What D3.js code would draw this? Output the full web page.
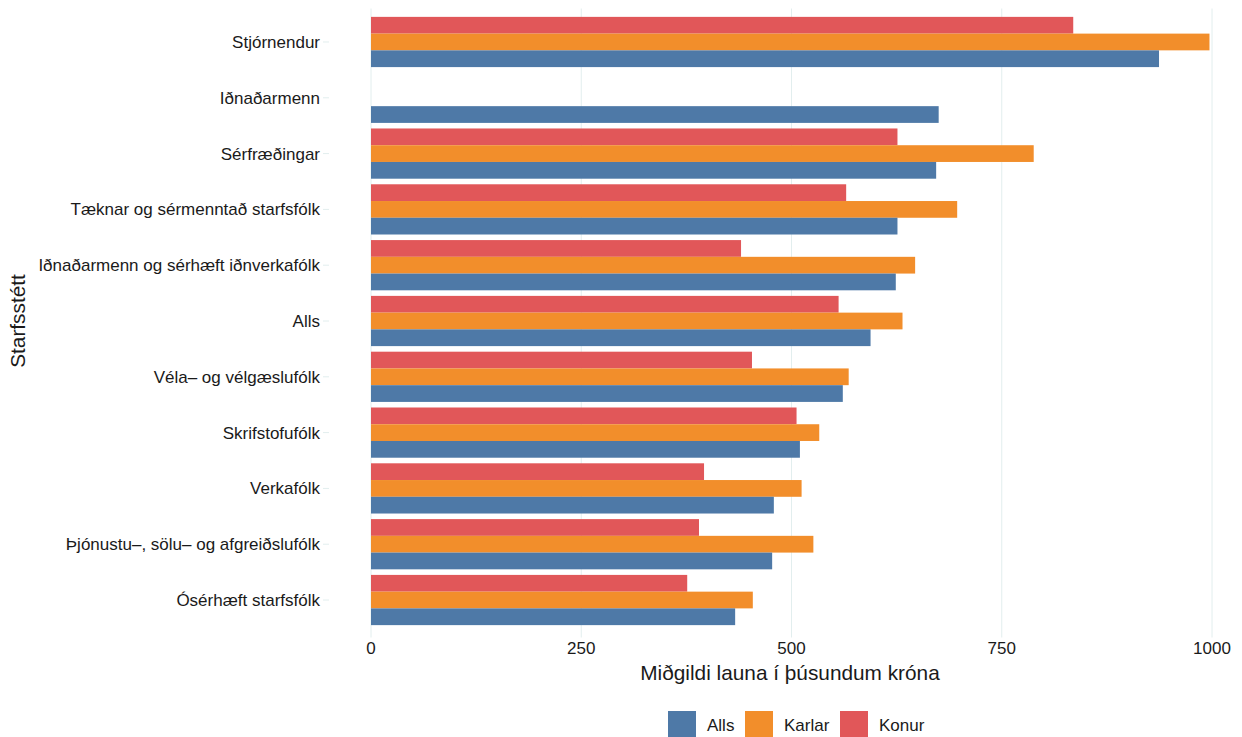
<!DOCTYPE html>
<html>
<head>
<meta charset="utf-8">
<script src="https://cdn.jsdelivr.net/npm/d3@7"></script>
<style>
  body { margin: 0; background: #fff; }
  text { font-family: "Liberation Sans", Arial, sans-serif; fill: #1a1a1a; }
</style>
</head>
<body>
<div id="chart"></div>
<script>
const categories = [
  'Stjórnendur',
  'Iðnaðarmenn',
  'Sérfræðingar',
  'Tæknar og sérmenntað starfsfólk',
  'Iðnaðarmenn og sérhæft iðnverkafólk',
  'Alls',
  'Véla- og vélgæslufólk',
  'Skrifstofufólk',
  'Verkafólk',
  'Þjónustu-, sölu- og afgreiðslufólk',
  'Ósérhæft starfsfólk'
];
const series = ['Konur', 'Karlar', 'Alls'];
const allsValues   = [937, 675, 672, 626, 624, 594, 561, 510, 479, 477, 433];
const karlarValues = [997, null, 788, 697, 647, 632, 568, 533, 512, 526, 454];
const konurValues  = [835, null, 626, 565, 440, 556, 453, 506, 396, 390, 376];
const xTicks = [0, 250, 500, 750, 1000];
const legendOrder = ['Alls', 'Karlar', 'Konur'];

const colors = { Alls: '#4e79a7', Karlar: '#f28e2b', Konur: '#e15759' };
const valuesBySeries = { Alls: allsValues, Karlar: karlarValues, Konur: konurValues };

const width = 1242, height = 737;
const svg = d3.select('#chart').append('svg')
  .attr('width', width).attr('height', height);

const panel = { top: 8.5, bottom: 633.5, left: 329, right: 1242 };
const gridColor = '#e2eeee';

const x = d3.scaleLinear().domain([0, 1000]).range([371, 1212]);
const y = d3.scalePoint().domain(categories).range([panel.top, panel.bottom]).padding(0.6);
const step = y.step();
const inner = d3.scaleBand().domain(series).range([-0.45 * step, 0.45 * step]);

// gridlines
svg.append('g').selectAll('line').data(xTicks).join('line')
  .attr('x1', d => x(d)).attr('x2', d => x(d))
  .attr('y1', panel.top).attr('y2', panel.bottom + 4)
  .attr('stroke', gridColor).attr('stroke-width', 1);

// bars
const rows = [];
categories.forEach((c, i) => {
  series.forEach(s => {
    const v = valuesBySeries[s][i];
    if (v != null) rows.push({ c, s, v });
  });
});
svg.append('g').selectAll('rect').data(rows).join('rect')
  .attr('x', x(0))
  .attr('y', d => y(d.c) + inner(d.s))
  .attr('width', d => x(d.v) - x(0))
  .attr('height', inner.bandwidth())
  .attr('fill', d => colors[d.s]);

// y axis
const yAxis = svg.append('g');
yAxis.selectAll('line').data(categories).join('line')
  .attr('x1', 323).attr('x2', 329)
  .attr('y1', d => y(d)).attr('y2', d => y(d))
  .attr('stroke', gridColor);
yAxis.selectAll('text').data(categories).join('text')
  .attr('x', 320).attr('y', d => y(d))
  .attr('dy', '0.35em')
  .attr('text-anchor', 'end')
  .attr('font-size', 17)
  .text(d => d.replace(/-/g, '\u2013'));

// x axis labels
svg.append('g').selectAll('text').data(xTicks).join('text')
  .attr('x', d => x(d)).attr('y', 654)
  .attr('text-anchor', 'middle')
  .attr('font-size', 17)
  .text(d => d);

// axis titles
svg.append('text')
  .attr('x', 790).attr('y', 680)
  .attr('text-anchor', 'middle')
  .attr('font-size', 20.8)
  .text('Miðgildi launa í þúsundum króna');

svg.append('text')
  .attr('transform', 'translate(25,321) rotate(-90)')
  .attr('text-anchor', 'middle')
  .attr('font-size', 20.8)
  .text('Starfsstétt');

// legend
const legendX = [668, 745, 840];
const lg = svg.append('g').selectAll('g').data(legendOrder).join('g')
  .attr('transform', (d, i) => `translate(${legendX[i]},711)`);
lg.append('rect').attr('width', 28).attr('height', 27).attr('fill', d => colors[d]);
lg.append('text').attr('x', 39).attr('y', 14).attr('dy', '0.35em')
  .attr('font-size', 17).text(d => d);
</script>
</body>
</html>
